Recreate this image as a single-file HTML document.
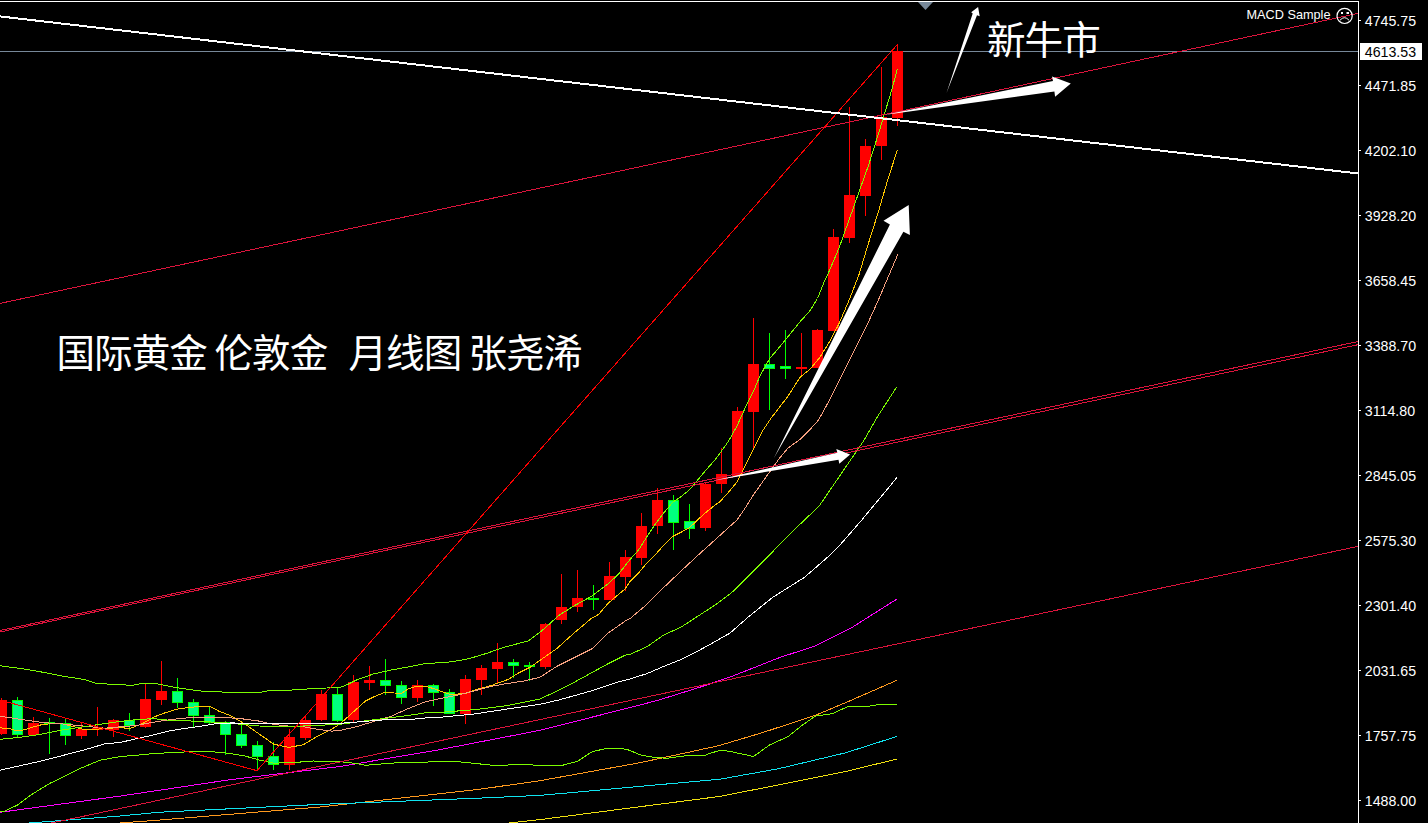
<!DOCTYPE html>
<html><head><meta charset="utf-8"><title>MT4 XAUUSD Monthly</title>
<style>
html,body{margin:0;padding:0;background:#000;width:1428px;height:823px;overflow:hidden;}
svg{display:block;}
.ax{font-family:"Liberation Sans",Arial,sans-serif;font-size:14.2px;fill:#fff;}
.cn{font-family:"Liberation Sans","Noto Sans CJK SC","Microsoft YaHei",sans-serif;font-size:38.6px;font-weight:400;letter-spacing:-1px;fill:#fff;}
</style></head><body>
<svg width="1428" height="823" viewBox="0 0 1428 823">
<rect x="0" y="0" width="1428" height="823" fill="#000"/>
<rect x="0" y="51" width="1358" height="1" fill="#778899" shape-rendering="crispEdges"/>
<g shape-rendering="crispEdges">
<rect x="1" y="698" width="1" height="37" fill="#FF0000"/>
<rect x="-4" y="700" width="11" height="34" fill="#FF0000"/>
<rect x="17" y="697" width="1" height="41" fill="#00FF00"/>
<rect x="12" y="700" width="11" height="35" fill="#00FF00"/>
<rect x="13" y="701" width="9" height="33" fill="#00FF7F"/>
<rect x="33" y="717" width="1" height="18" fill="#FF0000"/>
<rect x="28" y="723" width="11" height="12" fill="#FF0000"/>
<rect x="49" y="718" width="1" height="36" fill="#00FF00"/>
<rect x="44" y="722" width="11" height="2" fill="#00FF00"/>
<rect x="65" y="718" width="1" height="27" fill="#00FF00"/>
<rect x="60" y="723" width="11" height="13" fill="#00FF00"/>
<rect x="61" y="724" width="9" height="11" fill="#00FF7F"/>
<rect x="81" y="722" width="1" height="17" fill="#FF0000"/>
<rect x="76" y="729" width="11" height="7" fill="#FF0000"/>
<rect x="97" y="707" width="1" height="29" fill="#FF0000"/>
<rect x="92" y="728" width="11" height="2" fill="#FF0000"/>
<rect x="113" y="719" width="1" height="18" fill="#FF0000"/>
<rect x="108" y="720" width="11" height="10" fill="#FF0000"/>
<rect x="129" y="713" width="1" height="18" fill="#00FF00"/>
<rect x="124" y="720" width="11" height="6" fill="#00FF00"/>
<rect x="125" y="721" width="9" height="4" fill="#00FF7F"/>
<rect x="145" y="684" width="1" height="44" fill="#FF0000"/>
<rect x="140" y="699" width="11" height="28" fill="#FF0000"/>
<rect x="161" y="661" width="1" height="44" fill="#FF0000"/>
<rect x="156" y="691" width="11" height="9" fill="#FF0000"/>
<rect x="177" y="678" width="1" height="30" fill="#00FF00"/>
<rect x="172" y="691" width="11" height="12" fill="#00FF00"/>
<rect x="173" y="692" width="9" height="10" fill="#00FF7F"/>
<rect x="193" y="699" width="1" height="29" fill="#00FF00"/>
<rect x="188" y="702" width="11" height="14" fill="#00FF00"/>
<rect x="189" y="703" width="9" height="12" fill="#00FF7F"/>
<rect x="209" y="707" width="1" height="18" fill="#00FF00"/>
<rect x="204" y="715" width="11" height="8" fill="#00FF00"/>
<rect x="205" y="716" width="9" height="6" fill="#00FF7F"/>
<rect x="225" y="721" width="1" height="34" fill="#00FF00"/>
<rect x="220" y="722" width="11" height="13" fill="#00FF00"/>
<rect x="221" y="723" width="9" height="11" fill="#00FF7F"/>
<rect x="241" y="723" width="1" height="25" fill="#00FF00"/>
<rect x="236" y="734" width="11" height="12" fill="#00FF00"/>
<rect x="237" y="735" width="9" height="10" fill="#00FF7F"/>
<rect x="257" y="741" width="1" height="29" fill="#00FF00"/>
<rect x="252" y="745" width="11" height="12" fill="#00FF00"/>
<rect x="253" y="746" width="9" height="10" fill="#00FF7F"/>
<rect x="273" y="742" width="1" height="28" fill="#00FF00"/>
<rect x="268" y="756" width="11" height="9" fill="#00FF00"/>
<rect x="269" y="757" width="9" height="7" fill="#00FF7F"/>
<rect x="289" y="729" width="1" height="41" fill="#FF0000"/>
<rect x="284" y="737" width="11" height="28" fill="#FF0000"/>
<rect x="305" y="716" width="1" height="24" fill="#FF0000"/>
<rect x="300" y="720" width="11" height="18" fill="#FF0000"/>
<rect x="321" y="690" width="1" height="31" fill="#FF0000"/>
<rect x="316" y="694" width="11" height="26" fill="#FF0000"/>
<rect x="337" y="688" width="1" height="34" fill="#00FF00"/>
<rect x="332" y="694" width="11" height="27" fill="#00FF00"/>
<rect x="333" y="695" width="9" height="25" fill="#00FF7F"/>
<rect x="353" y="675" width="1" height="47" fill="#FF0000"/>
<rect x="348" y="682" width="11" height="38" fill="#FF0000"/>
<rect x="369" y="666" width="1" height="24" fill="#FF0000"/>
<rect x="364" y="680" width="11" height="3" fill="#FF0000"/>
<rect x="385" y="659" width="1" height="36" fill="#00FF00"/>
<rect x="380" y="680" width="11" height="6" fill="#00FF00"/>
<rect x="381" y="681" width="9" height="4" fill="#00FF7F"/>
<rect x="401" y="681" width="1" height="23" fill="#00FF00"/>
<rect x="396" y="685" width="11" height="13" fill="#00FF00"/>
<rect x="397" y="686" width="9" height="11" fill="#00FF7F"/>
<rect x="417" y="680" width="1" height="22" fill="#FF0000"/>
<rect x="412" y="685" width="11" height="13" fill="#FF0000"/>
<rect x="433" y="684" width="1" height="22" fill="#00FF00"/>
<rect x="428" y="685" width="11" height="8" fill="#00FF00"/>
<rect x="429" y="686" width="9" height="6" fill="#00FF7F"/>
<rect x="449" y="689" width="1" height="25" fill="#00FF00"/>
<rect x="444" y="692" width="11" height="22" fill="#00FF00"/>
<rect x="445" y="693" width="9" height="20" fill="#00FF7F"/>
<rect x="465" y="675" width="1" height="49" fill="#FF0000"/>
<rect x="460" y="679" width="11" height="35" fill="#FF0000"/>
<rect x="481" y="665" width="1" height="30" fill="#FF0000"/>
<rect x="476" y="668" width="11" height="12" fill="#FF0000"/>
<rect x="497" y="643" width="1" height="40" fill="#FF0000"/>
<rect x="492" y="662" width="11" height="7" fill="#FF0000"/>
<rect x="513" y="659" width="1" height="19" fill="#00FF00"/>
<rect x="508" y="662" width="11" height="4" fill="#00FF00"/>
<rect x="509" y="663" width="9" height="2" fill="#00FF7F"/>
<rect x="529" y="662" width="1" height="19" fill="#00FF00"/>
<rect x="524" y="665" width="11" height="2" fill="#00FF00"/>
<rect x="545" y="623" width="1" height="46" fill="#FF0000"/>
<rect x="540" y="624" width="11" height="43" fill="#FF0000"/>
<rect x="561" y="574" width="1" height="50" fill="#FF0000"/>
<rect x="556" y="607" width="11" height="13" fill="#FF0000"/>
<rect x="577" y="570" width="1" height="42" fill="#FF0000"/>
<rect x="572" y="598" width="11" height="9" fill="#FF0000"/>
<rect x="593" y="585" width="1" height="25" fill="#00FF00"/>
<rect x="588" y="598" width="11" height="2" fill="#00FF00"/>
<rect x="609" y="562" width="1" height="38" fill="#FF0000"/>
<rect x="604" y="576" width="11" height="24" fill="#FF0000"/>
<rect x="625" y="550" width="1" height="41" fill="#FF0000"/>
<rect x="620" y="557" width="11" height="20" fill="#FF0000"/>
<rect x="641" y="513" width="1" height="52" fill="#FF0000"/>
<rect x="636" y="526" width="11" height="32" fill="#FF0000"/>
<rect x="657" y="488" width="1" height="46" fill="#FF0000"/>
<rect x="652" y="500" width="11" height="26" fill="#FF0000"/>
<rect x="673" y="495" width="1" height="55" fill="#00FF00"/>
<rect x="668" y="500" width="11" height="23" fill="#00FF00"/>
<rect x="669" y="501" width="9" height="21" fill="#00FF7F"/>
<rect x="689" y="504" width="1" height="35" fill="#00FF00"/>
<rect x="684" y="521" width="11" height="8" fill="#00FF00"/>
<rect x="685" y="522" width="9" height="6" fill="#00FF7F"/>
<rect x="705" y="483" width="1" height="48" fill="#FF0000"/>
<rect x="700" y="484" width="11" height="44" fill="#FF0000"/>
<rect x="721" y="448" width="1" height="45" fill="#FF0000"/>
<rect x="716" y="474" width="11" height="10" fill="#FF0000"/>
<rect x="737" y="407" width="1" height="69" fill="#FF0000"/>
<rect x="732" y="411" width="11" height="65" fill="#FF0000"/>
<rect x="753" y="318" width="1" height="131" fill="#FF0000"/>
<rect x="748" y="364" width="11" height="48" fill="#FF0000"/>
<rect x="769" y="333" width="1" height="77" fill="#00FF00"/>
<rect x="764" y="364" width="11" height="5" fill="#00FF00"/>
<rect x="765" y="365" width="9" height="3" fill="#00FF7F"/>
<rect x="785" y="330" width="1" height="49" fill="#00FF00"/>
<rect x="780" y="366" width="11" height="3" fill="#00FF00"/>
<rect x="781" y="367" width="9" height="1" fill="#00FF7F"/>
<rect x="801" y="333" width="1" height="42" fill="#FF0000"/>
<rect x="796" y="367" width="11" height="2" fill="#FF0000"/>
<rect x="817" y="329" width="1" height="39" fill="#FF0000"/>
<rect x="812" y="330" width="11" height="38" fill="#FF0000"/>
<rect x="833" y="229" width="1" height="102" fill="#FF0000"/>
<rect x="828" y="237" width="11" height="94" fill="#FF0000"/>
<rect x="849" y="107" width="1" height="136" fill="#FF0000"/>
<rect x="844" y="195" width="11" height="43" fill="#FF0000"/>
<rect x="865" y="139" width="1" height="77" fill="#FF0000"/>
<rect x="860" y="146" width="11" height="50" fill="#FF0000"/>
<rect x="881" y="67" width="1" height="93" fill="#FF0000"/>
<rect x="876" y="117" width="11" height="29" fill="#FF0000"/>
<rect x="897" y="44" width="1" height="82" fill="#FF0000"/>
<rect x="892" y="51" width="11" height="67" fill="#FF0000"/>
</g>
<g fill="none" stroke-width="1" shape-rendering="crispEdges">
<polyline points="0.0,665.8 21.0,668.5 42.0,672.1 63.0,676.3 84.0,679.4 96.6,683.6 120.0,684.5 131.9,685.5 142.1,683.3 154.0,683.3 164.2,685.2 176.1,687.6 188.0,689.3 205.0,691.5 234.4,692.4 260.6,692.4 269.4,690.5 297.1,689.9 313.2,688.5 340.0,687.5 348.5,684.0 357.0,679.8 374.0,673.8 391.0,670.1 408.0,667.0 425.0,663.6 440.0,662.7 451.9,661.8 468.9,658.7 485.9,653.6 502.9,647.7 528.4,640.8 542.0,630.6 559.0,615.3 574.0,605.9 591.0,596.6 608.0,583.8 618.2,574.5 630.0,559.5 638.5,550.1 647.0,536.5 655.5,523.8 664.0,512.7 672.5,502.5 681.0,496.6 689.5,489.8 698.0,479.6 706.5,469.4 715.0,460.0 720.0,453.1 728.5,441.2 737.0,425.9 745.5,407.2 754.0,390.2 760.2,375.3 769.9,358.3 780.0,346.5 800.0,321.8 809.7,311.1 817.5,298.5 823.3,283.9 829.7,270.1 839.5,246.7 849.2,219.5 858.9,192.3 868.6,165.0 878.4,133.9 891.7,90.0 897.4,69.0" stroke="#7CFC00"/>
<polyline points="0.0,727.8 10.5,728.8 17.0,730.9 26.0,729.5 31.5,727.4 42.0,724.6 52.5,723.6 63.0,724.0 73.6,726.7 84.0,729.5 94.6,729.5 105.0,728.4 120.0,727.7 130.2,728.4 142.1,723.8 154.0,717.0 164.2,713.1 176.1,709.3 188.0,707.6 201.6,706.3 210.1,706.3 218.6,711.0 230.0,715.5 244.6,723.8 259.2,734.0 273.8,744.2 288.4,747.4 302.9,744.9 317.5,736.2 332.1,728.9 340.0,724.0 348.5,716.3 357.0,708.7 365.5,701.0 374.0,696.8 385.0,692.2 394.4,693.0 401.2,693.4 408.0,689.1 416.5,686.1 426.7,686.6 435.2,689.1 440.0,691.0 450.2,694.4 465.5,693.6 474.0,690.2 491.0,685.6 508.0,679.5 518.2,673.2 530.1,667.2 540.0,660.3 557.0,648.4 574.0,633.1 591.0,618.7 598.7,614.4 608.0,603.4 625.0,588.9 630.0,581.6 638.5,573.1 647.0,562.9 655.5,554.4 664.0,545.0 672.5,536.5 681.0,532.3 689.5,527.7 698.0,519.5 706.5,511.9 715.0,505.1 720.0,501.6 728.5,492.2 737.0,482.0 745.5,465.0 754.0,448.0 762.5,431.0 771.0,418.3 779.5,407.2 788.0,396.2 800.0,377.3 809.7,369.5 819.5,357.8 829.2,342.3 838.9,323.8 848.6,301.4 858.9,274.9 868.6,242.8 878.4,211.7 888.1,178.6 897.4,150.0" stroke="#FFC800"/>
<polyline points="0.0,716.2 21.0,719.4 42.0,722.5 63.0,724.0 84.0,726.1 105.0,728.2 120.0,726.8 137.0,725.5 154.0,722.1 171.0,719.5 188.0,717.8 205.0,717.5 230.0,717.8 244.6,719.1 259.2,721.1 273.8,724.5 288.4,726.0 302.9,726.7 317.5,729.3 332.1,731.1 340.0,730.5 357.0,726.5 374.0,721.4 391.0,716.3 408.0,708.7 425.0,701.9 440.0,698.6 457.0,695.3 474.0,691.0 491.0,686.3 508.0,683.4 525.0,680.8 540.0,677.2 557.0,666.3 574.0,657.8 592.7,648.4 608.0,633.1 625.0,621.2 630.0,618.7 647.0,604.2 664.0,587.2 681.0,571.1 698.0,555.2 715.0,539.9 730.0,526.3 737.0,520.0 745.5,507.6 754.0,494.0 762.5,482.0 771.0,470.1 779.5,458.2 788.0,448.0 800.0,439.5 809.7,429.8 818.5,420.1 829.2,400.6 838.9,381.2 848.6,361.7 858.4,342.3 868.1,322.8 877.8,301.4 885.6,283.0 897.8,254.5" stroke="#F5A080"/>
<polyline points="0.0,739.3 21.0,737.2 42.0,734.1 63.0,729.9 84.0,726.7 105.0,723.6 120.0,721.5 137.0,719.5 154.0,718.7 171.0,720.4 188.0,720.9 205.0,721.6 230.0,723.2 259.2,726.0 288.4,726.7 340.0,724.3 374.0,719.7 408.0,715.5 425.0,712.9 440.0,712.4 474.0,709.7 508.0,705.5 540.0,699.0 557.0,691.0 574.0,682.4 591.0,673.1 608.0,663.7 625.0,655.2 630.0,654.4 647.0,646.7 664.0,634.8 681.0,627.2 698.0,616.1 715.0,605.1 730.0,594.0 734.0,590.4 760.8,563.7 793.6,530.4 819.1,506.1 864.2,440.0 877.8,416.2 896.7,387.0" stroke="#7CFC00"/>
<polyline points="0.0,770.2 42.0,760.8 84.0,750.0 105.0,743.8 120.0,742.5 137.0,738.6 154.0,734.8 171.0,730.6 188.0,728.0 205.0,725.5 215.2,723.8 230.0,723.0 340.0,723.3 382.5,720.0 408.0,719.7 425.0,718.0 440.0,717.3 474.0,714.0 508.0,708.9 540.0,704.3 558.7,700.0 591.0,691.0 616.5,682.4 630.0,679.0 647.0,673.6 664.0,666.3 681.0,659.5 698.0,651.0 715.0,641.6 730.0,633.1 748.6,616.7 772.9,597.2 804.5,577.3 826.4,558.3 840.0,545.0 862.1,519.6 897.0,477.5" stroke="#FFFFFF"/>
<polyline points="0.0,812.3 120.0,796.1 230.0,779.7 340.0,766.5 440.0,749.6 540.0,730.3 640.0,705.0 658.9,700.0 700.0,687.2 729.2,677.4 780.0,657.4 814.2,646.3 840.0,633.7 850.0,628.7 897.0,599.0" stroke="#FF00FF"/>
<polyline points="120.0,823.0 160.0,820.0 320.0,807.0 480.0,789.2 540.0,780.7 640.0,762.7 710.0,747.6 720.0,745.3 761.0,733.1 815.4,715.3 846.0,702.5 896.7,680.4" stroke="#FF9A1E"/>
<polyline points="29.4,823.0 120.0,816.0 160.0,812.2 320.0,804.4 480.0,798.1 540.0,795.4 720.0,779.2 778.0,768.8 846.0,752.7 896.7,736.5" stroke="#10E4F0"/>
<polyline points="508.8,823.0 540.0,819.6 720.0,796.4 778.0,785.0 846.0,771.4 896.7,759.1" stroke="#F0E010"/>
<polyline points="0.0,812.1 5.0,811.1 10.0,808.5 17.6,805.0 25.0,799.5 30.0,795.5 40.0,789.4 50.0,783.3 60.0,778.5 70.0,773.4 80.0,768.5 90.0,764.4 100.0,760.2 120.0,756.6 137.0,755.2 154.0,753.5 171.0,752.7 188.0,751.8 205.0,751.5 218.6,752.2 230.0,753.5 244.6,755.9 259.2,760.0 273.8,763.2 295.6,762.4 313.2,761.0 340.0,761.6 357.0,763.6 365.5,765.3 377.4,764.3 392.7,763.1 408.0,762.2 440.0,761.9 457.0,761.6 474.0,763.3 494.4,765.5 521.6,764.5 540.0,765.3 562.4,765.3 577.4,761.3 592.3,751.6 607.3,748.3 617.7,748.3 626.7,749.3 641.6,755.3 655.1,757.5 667.1,758.3 682.0,756.1 705.9,755.2 710.0,753.2 721.9,750.1 730.4,751.5 744.0,754.4 753.4,756.6 769.5,745.0 788.2,736.5 801.8,725.5 815.4,716.1 832.4,713.6 848.6,706.3 868.2,706.3 878.4,704.6 896.7,704.6" stroke="#7CFC00"/>
</g>
<g fill="none" stroke-width="1" shape-rendering="crispEdges">
<line x1="0" y1="303.4" x2="1358" y2="13.4" stroke="#DC143C"/>
<line x1="0" y1="630.5" x2="1358" y2="341.5" stroke="#DC143C"/>
<line x1="0" y1="632" x2="1358" y2="344.7" stroke="#DC143C"/>
<line x1="0" y1="833.9" x2="1358" y2="546.4" stroke="#DC143C"/>
<polyline points="0,700 257,770.7 897.4,44.5" stroke="#FF0000"/>
</g>
<line x1="0" y1="16.4" x2="1358" y2="173.45" stroke="#FFFFFF" stroke-width="2" shape-rendering="crispEdges"/>
<g fill="#FFFFFF">
<polygon points="774,458 889.9,224.5 883.5,220.7 908.7,205.1 909.9,235 903.4,231.8"/>
<polygon points="714,480.5 837.4,452.7 836.3,449 850.1,454.4 839.3,463.7 838.5,459.8"/>
<polygon points="884,115 1053,81 1052,76.5 1070.8,83.5 1055.1,96.7 1054.4,91.5"/>
<polygon points="946.5,93 972.7,13.4 971.2,12.2 978.1,7 979.7,16.2 977,15.2"/>
</g>
<polygon points="918,2 933,2 925.5,10" fill="#778899"/>
<g shape-rendering="crispEdges">
<rect x="0" y="1" width="1359" height="1" fill="#FFFFFF"/>
<rect x="1358" y="1" width="1" height="822" fill="#FFFFFF"/>
<rect x="1359" y="20" width="2" height="1" fill="#FFFFFF"/>
<rect x="1359" y="85" width="2" height="1" fill="#FFFFFF"/>
<rect x="1359" y="150" width="2" height="1" fill="#FFFFFF"/>
<rect x="1359" y="215" width="2" height="1" fill="#FFFFFF"/>
<rect x="1359" y="280" width="2" height="1" fill="#FFFFFF"/>
<rect x="1359" y="345" width="2" height="1" fill="#FFFFFF"/>
<rect x="1359" y="410" width="2" height="1" fill="#FFFFFF"/>
<rect x="1359" y="475" width="2" height="1" fill="#FFFFFF"/>
<rect x="1359" y="540" width="2" height="1" fill="#FFFFFF"/>
<rect x="1359" y="605" width="2" height="1" fill="#FFFFFF"/>
<rect x="1359" y="670" width="2" height="1" fill="#FFFFFF"/>
<rect x="1359" y="735" width="2" height="1" fill="#FFFFFF"/>
<rect x="1359" y="800" width="2" height="1" fill="#FFFFFF"/>
</g>
<text class="ax" x="1364.8" y="26">4745.75</text>
<text class="ax" x="1364.8" y="91">4471.85</text>
<text class="ax" x="1364.8" y="156">4202.10</text>
<text class="ax" x="1364.8" y="221">3928.20</text>
<text class="ax" x="1364.8" y="286">3658.45</text>
<text class="ax" x="1364.8" y="351">3388.70</text>
<text class="ax" x="1364.8" y="416">3114.80</text>
<text class="ax" x="1364.8" y="481">2845.05</text>
<text class="ax" x="1364.8" y="546">2575.30</text>
<text class="ax" x="1364.8" y="611">2301.40</text>
<text class="ax" x="1364.8" y="676">2031.65</text>
<text class="ax" x="1364.8" y="741">1757.75</text>
<text class="ax" x="1364.8" y="806">1488.00</text>
<rect x="1360" y="43" width="62" height="17" fill="#FFFFFF" shape-rendering="crispEdges"/>
<text class="ax" x="1364.8" y="56.7" style="fill:#000">4613.53</text>
<text class="ax" x="1246.5" y="19" style="font-size:13.6px" textLength="84" lengthAdjust="spacingAndGlyphs">MACD Sample</text>
<g fill="none" stroke="#FFFFFF" stroke-width="1">
<circle cx="1344.6" cy="15.9" r="7.6" stroke-width="1.2"/>
<path d="M1340,20.2 Q1344.5,15.2 1349,20.2"/>
</g>
<rect x="1341" y="12" width="2" height="2" fill="#FFFFFF"/>
<rect x="1346.5" y="12" width="2.5" height="2" fill="#FFFFFF"/>
<text class="cn" x="56.5" y="367.3">国际黄金</text>
<text class="cn" x="214.5" y="367.3">伦敦金</text>
<text class="cn" x="348.5" y="367.3">月线图</text>
<text class="cn" x="468.5" y="367.3">张尧浠</text>
<text class="cn" x="987" y="54">新牛市</text>
</svg>
</body></html>
